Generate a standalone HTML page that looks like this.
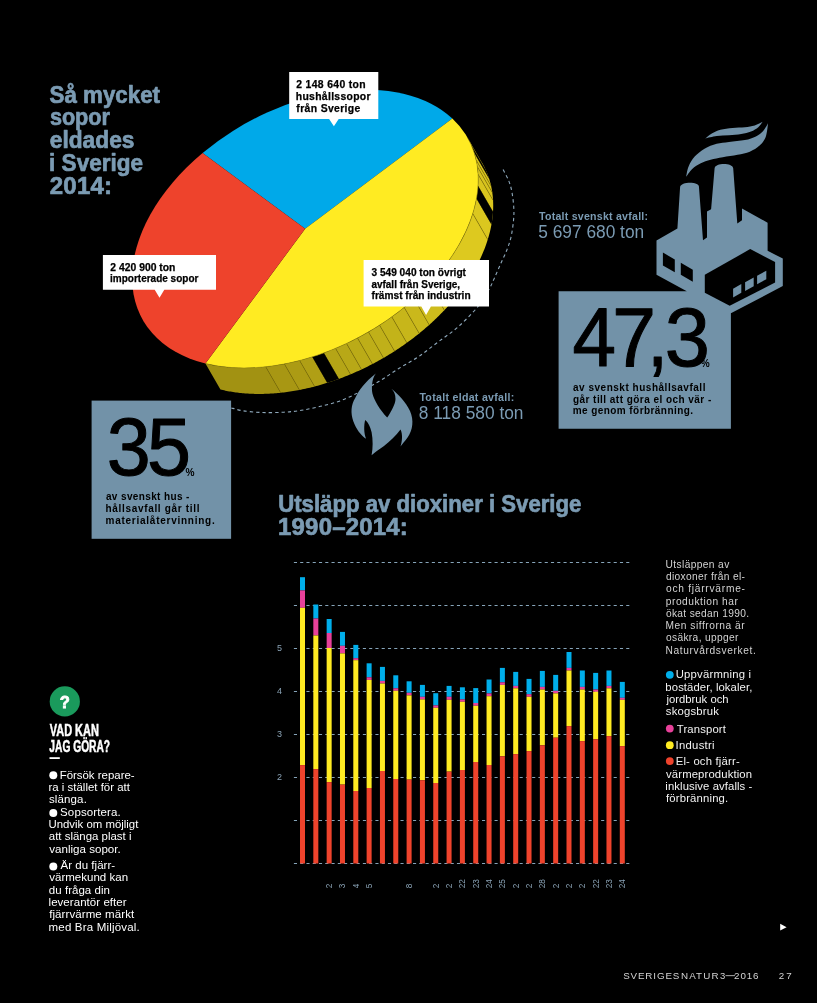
<!DOCTYPE html>
<html><head><meta charset="utf-8"><title>Så mycket sopor eldades i Sverige 2014</title>
<style>
html,body{margin:0;padding:0;background:#000;}
body{width:817px;height:1003px;overflow:hidden;}
svg{display:block;font-family:"Liberation Sans",sans-serif;will-change:transform;}
</style></head>
<body>
<svg width="817" height="1003" viewBox="0 0 817 1003" font-family="Liberation Sans, sans-serif">
<rect width="817" height="1003" fill="#000"/>
<polygon points="466.85,136.43 467.38,137.34 467.90,138.26 468.41,139.19 468.90,140.12 469.38,141.06 469.85,142.01 470.31,142.96 470.76,143.92 485.76,169.92 485.31,168.96 484.85,168.01 484.38,167.06 483.90,166.12 483.41,165.19 482.90,164.26 482.38,163.34 481.85,162.43" fill="#d6c21e"/>
<polygon points="470.76,143.92 471.19,144.89 471.61,145.86 472.01,146.84 472.41,147.82 472.79,148.82 473.16,149.81 473.51,150.82 473.85,151.83 474.18,152.84 489.18,178.84 488.85,177.83 488.51,176.82 488.16,175.81 487.79,174.82 487.41,173.82 487.01,172.84 486.61,171.86 486.19,170.89 485.76,169.92" fill="#d7c31e"/>
<polygon points="474.18,152.84 474.50,153.86 474.81,154.89 475.10,155.92 475.38,156.96 475.64,158.00 475.89,159.05 476.13,160.11 491.13,186.11 490.89,185.05 490.64,184.00 490.38,182.96 490.10,181.92 489.81,180.89 489.50,179.86 489.18,178.84" fill="#d7c31e"/>
<polygon points="476.13,160.11 476.36,161.17 476.57,162.23 476.77,163.30 476.96,164.37 477.13,165.45 477.29,166.54 492.29,192.54 492.13,191.45 491.96,190.37 491.77,189.30 491.57,188.23 491.36,187.17 491.13,186.11" fill="#d8c41e"/>
<polygon points="477.29,166.54 477.44,167.63 477.58,168.72 477.70,169.82 477.81,170.92 477.90,172.03 477.98,173.14 478.05,174.26 493.05,200.26 492.98,199.14 492.90,198.03 492.81,196.92 492.70,195.82 492.58,194.72 492.44,193.63 492.29,192.54" fill="#d8c41e"/>
<polygon points="478.05,174.26 478.11,175.39 478.15,176.53 478.18,177.67 478.20,178.81 478.20,179.96 478.19,181.12 478.16,182.27 478.13,183.43 478.08,184.60 478.01,185.76 493.01,211.76 493.08,210.60 493.13,209.43 493.16,208.27 493.19,207.12 493.20,205.96 493.20,204.81 493.18,203.67 493.15,202.53 493.11,201.39 493.05,200.26" fill="#d9c51e"/>
<polygon points="478.01,185.76 477.93,187.02 477.82,188.29 477.71,189.55 477.58,190.82 477.43,192.10 477.27,193.37 477.09,194.65 476.90,195.93 476.69,197.22 476.46,198.51 491.46,224.51 491.69,223.22 491.90,221.93 492.09,220.65 492.27,219.37 492.43,218.10 492.58,216.82 492.71,215.55 492.82,214.29 492.93,213.02 493.01,211.76" fill="#dac61f"/>
<polygon points="476.46,198.51 476.23,199.76 475.98,201.00 475.72,202.26 475.45,203.51 475.16,204.76 474.86,206.02 474.54,207.28 474.21,208.54 473.86,209.80 473.50,211.07 473.13,212.33 472.74,213.60 487.74,239.60 488.13,238.33 488.50,237.07 488.86,235.80 489.21,234.54 489.54,233.28 489.86,232.02 490.16,230.76 490.45,229.51 490.72,228.26 490.98,227.00 491.23,225.76 491.46,224.51" fill="#dbc71f"/>
<polygon points="472.74,213.60 472.36,214.82 471.96,216.04 471.54,217.26 471.12,218.48 470.68,219.71 470.23,220.93 469.77,222.16 469.29,223.38 468.80,224.61 468.30,225.83 467.78,227.06 467.26,228.28 466.72,229.51 466.17,230.74 465.60,231.96 465.02,233.19 464.43,234.41 463.83,235.64 463.22,236.86 462.59,238.08 461.95,239.31 461.30,240.53 460.64,241.75 459.96,242.97 459.28,244.19 458.58,245.41 457.87,246.62 457.14,247.84 456.41,249.05 455.66,250.26 454.91,251.47 454.14,252.68 453.35,253.89 452.56,255.10 451.76,256.30 450.94,257.50 450.12,258.70 449.28,259.89 448.43,261.09 447.57,262.28 446.70,263.47 445.82,264.65 444.92,265.84 459.92,291.84 460.82,290.65 461.70,289.47 462.57,288.28 463.43,287.09 464.28,285.89 465.12,284.70 465.94,283.50 466.76,282.30 467.56,281.10 468.35,279.89 469.14,278.68 469.91,277.47 470.66,276.26 471.41,275.05 472.14,273.84 472.87,272.62 473.58,271.41 474.28,270.19 474.96,268.97 475.64,267.75 476.30,266.53 476.95,265.31 477.59,264.08 478.22,262.86 478.83,261.64 479.43,260.41 480.02,259.19 480.60,257.96 481.17,256.74 481.72,255.51 482.26,254.28 482.78,253.06 483.30,251.83 483.80,250.61 484.29,249.38 484.77,248.16 485.23,246.93 485.68,245.71 486.12,244.48 486.54,243.26 486.96,242.04 487.36,240.82 487.74,239.60" fill="#ddc91f"/>
<polygon points="444.92,265.84 444.03,267.00 443.12,268.17 442.20,269.33 441.28,270.50 440.34,271.65 439.39,272.81 438.43,273.96 437.46,275.10 436.49,276.25 435.50,277.39 434.50,278.52 433.49,279.66 432.47,280.78 431.45,281.91 430.41,283.03 429.36,284.15 444.36,310.15 445.41,309.03 446.45,307.91 447.47,306.78 448.49,305.66 449.50,304.52 450.50,303.39 451.49,302.25 452.46,301.10 453.43,299.96 454.39,298.81 455.34,297.65 456.28,296.50 457.20,295.33 458.12,294.17 459.03,293.00 459.92,291.84" fill="#d3c01d"/>
<polygon points="429.36,284.15 428.26,285.31 427.14,286.47 426.02,287.62 424.88,288.77 423.74,289.92 422.58,291.05 421.41,292.19 420.24,293.32 419.05,294.44 417.86,295.56 416.66,296.67 415.44,297.78 414.22,298.88 429.22,324.88 430.44,323.78 431.66,322.67 432.86,321.56 434.05,320.44 435.24,319.32 436.41,318.19 437.58,317.05 438.74,315.92 439.88,314.77 441.02,313.62 442.14,312.47 443.26,311.31 444.36,310.15" fill="#cebc1c"/>
<polygon points="414.22,298.88 413.00,299.96 411.77,301.04 410.53,302.12 409.29,303.18 408.03,304.25 406.77,305.30 405.50,306.35 404.21,307.39 419.21,333.39 420.50,332.35 421.77,331.30 423.03,330.25 424.29,329.18 425.53,328.12 426.77,327.04 428.00,325.96 429.22,324.88" fill="#cab81b"/>
<polygon points="404.21,307.39 402.87,308.47 401.52,309.55 400.16,310.62 398.79,311.67 397.41,312.73 396.02,313.77 394.63,314.81 393.22,315.84 391.81,316.86 406.81,342.86 408.22,341.84 409.63,340.81 411.02,339.77 412.41,338.73 413.79,337.67 415.16,336.62 416.52,335.55 417.87,334.47 419.21,333.39" fill="#c7b61a"/>
<polygon points="391.81,316.86 390.48,317.81 389.14,318.76 387.80,319.69 386.45,320.62 385.09,321.55 383.73,322.46 382.36,323.37 380.98,324.27 379.60,325.16 394.60,351.16 395.98,350.27 397.36,349.37 398.73,348.46 400.09,347.55 401.45,346.62 402.80,345.69 404.14,344.76 405.48,343.81 406.81,342.86" fill="#c3b319"/>
<polygon points="379.60,325.16 378.23,326.04 376.86,326.91 375.48,327.77 374.09,328.62 372.70,329.46 371.30,330.30 369.90,331.13 368.50,331.95 383.50,357.95 384.90,357.13 386.30,356.30 387.70,355.46 389.09,354.62 390.48,353.77 391.86,352.91 393.23,352.04 394.60,351.16" fill="#c0b019"/>
<polygon points="368.50,331.95 366.94,332.84 365.39,333.73 363.82,334.60 362.25,335.47 360.68,336.32 359.10,337.17 357.51,338.00 372.51,364.00 374.10,363.17 375.68,362.32 377.25,361.47 378.82,360.60 380.39,359.73 381.94,358.84 383.50,357.95" fill="#beae18"/>
<polygon points="357.51,338.00 355.95,338.81 354.39,339.61 352.82,340.40 351.24,341.18 349.66,341.95 348.08,342.71 346.50,343.46 361.50,369.46 363.08,368.71 364.66,367.95 366.24,367.18 367.82,366.40 369.39,365.61 370.95,364.81 372.51,364.00" fill="#bbab17"/>
<polygon points="346.50,343.46 344.94,344.19 343.37,344.91 341.81,345.61 340.24,346.31 338.66,347.00 337.09,347.67 335.51,348.34 350.51,374.34 352.09,373.67 353.66,373.00 355.24,372.31 356.81,371.61 358.37,370.91 359.94,370.19 361.50,369.46" fill="#b8a817"/>
<polygon points="335.51,348.34 333.86,349.02 332.21,349.69 330.55,350.35 328.89,351.00 327.24,351.64 325.57,352.27 323.91,352.88 338.91,378.88 340.57,378.27 342.24,377.64 343.89,377.00 345.55,376.35 347.21,375.69 348.86,375.02 350.51,374.34" fill="#b5a516"/>
<polygon points="323.91,352.88 322.24,353.49 320.57,354.08 318.90,354.66 317.22,355.23 315.55,355.79 313.87,356.34 312.20,356.87 327.20,382.87 328.87,382.34 330.55,381.79 332.22,381.23 333.90,380.66 335.57,380.08 337.24,379.49 338.91,378.88" fill="#b3a215"/>
<polygon points="312.20,356.87 310.62,357.36 309.05,357.84 307.48,358.31 305.90,358.76 304.33,359.21 302.75,359.65 301.18,360.07 299.61,360.49 314.61,386.49 316.18,386.07 317.75,385.65 319.33,385.21 320.90,384.76 322.48,384.31 324.05,383.84 325.62,383.36 327.20,382.87" fill="#b09f15"/>
<polygon points="299.61,360.49 298.08,360.88 296.56,361.26 295.04,361.63 293.51,361.99 291.99,362.34 290.47,362.68 288.95,363.01 287.44,363.33 285.92,363.63 284.41,363.93 299.41,389.93 300.92,389.63 302.44,389.33 303.95,389.01 305.47,388.68 306.99,388.34 308.51,387.99 310.04,387.63 311.56,387.26 313.08,386.88 314.61,386.49" fill="#ac9b14"/>
<polygon points="284.41,363.93 282.83,364.23 281.27,364.52 279.70,364.79 278.13,365.05 276.57,365.31 275.01,365.55 273.45,365.78 271.90,365.99 270.35,366.20 268.80,366.40 267.25,366.58 265.71,366.75 280.71,392.75 282.25,392.58 283.80,392.40 285.35,392.20 286.90,391.99 288.45,391.78 290.01,391.55 291.57,391.31 293.13,391.05 294.70,390.79 296.27,390.52 297.83,390.23 299.41,389.93" fill="#a89713"/>
<polygon points="265.71,366.75 264.24,366.90 262.77,367.05 261.31,367.18 259.85,367.30 258.39,367.41 256.94,367.51 255.49,367.60 254.05,367.68 252.60,367.75 251.17,367.81 249.73,367.86 248.30,367.89 246.88,367.92 245.46,367.94 244.04,367.94 242.63,367.94 241.23,367.92 239.82,367.89 238.43,367.86 237.04,367.81 235.65,367.75 234.27,367.68 232.89,367.60 231.52,367.51 230.16,367.41 228.80,367.30 227.45,367.18 226.10,367.04 224.76,366.90 223.42,366.75 222.09,366.58 220.77,366.41 219.46,366.22 218.15,366.03 216.84,365.82 215.55,365.60 214.26,365.38 212.98,365.14 211.70,364.89 210.43,364.63 209.17,364.37 207.92,364.09 206.67,363.80 205.44,363.50 220.44,389.50 221.67,389.80 222.92,390.09 224.17,390.37 225.43,390.63 226.70,390.89 227.98,391.14 229.26,391.38 230.55,391.60 231.84,391.82 233.15,392.03 234.46,392.22 235.77,392.41 237.09,392.58 238.42,392.75 239.76,392.90 241.10,393.04 242.45,393.18 243.80,393.30 245.16,393.41 246.52,393.51 247.89,393.60 249.27,393.68 250.65,393.75 252.04,393.81 253.43,393.86 254.82,393.89 256.23,393.92 257.63,393.94 259.04,393.94 260.46,393.94 261.88,393.92 263.30,393.89 264.73,393.86 266.17,393.81 267.60,393.75 269.05,393.68 270.49,393.60 271.94,393.51 273.39,393.41 274.85,393.30 276.31,393.18 277.77,393.05 279.24,392.90 280.71,392.75" fill="#a29212"/>
<polygon points="470.76,143.92 471.19,144.89 471.61,145.86 472.01,146.84 472.41,147.82 472.79,148.82 473.16,149.81 473.51,150.82 473.85,151.83 474.18,152.84 489.18,178.84 488.85,177.83 488.51,176.82 488.16,175.81 487.79,174.82 487.41,173.82 487.01,172.84 486.61,171.86 486.19,170.89 485.76,169.92" fill="#000"/>
<polygon points="478.01,185.76 477.93,187.02 477.82,188.29 477.71,189.55 477.58,190.82 477.43,192.10 477.27,193.37 477.09,194.65 476.90,195.93 476.69,197.22 476.46,198.51 491.46,224.51 491.69,223.22 491.90,221.93 492.09,220.65 492.27,219.37 492.43,218.10 492.58,216.82 492.71,215.55 492.82,214.29 492.93,213.02 493.01,211.76" fill="#000"/>
<polygon points="323.91,352.88 322.24,353.49 320.57,354.08 318.90,354.66 317.22,355.23 315.55,355.79 313.87,356.34 312.20,356.87 327.20,382.87 328.87,382.34 330.55,381.79 332.22,381.23 333.90,380.66 335.57,380.08 337.24,379.49 338.91,378.88" fill="#000"/>
<line x1="476.13" y1="160.11" x2="491.13" y2="186.11" stroke="#7d6f0c" stroke-width="0.6"/>
<line x1="477.29" y1="166.54" x2="492.29" y2="192.54" stroke="#7d6f0c" stroke-width="0.6"/>
<line x1="478.05" y1="174.26" x2="493.05" y2="200.26" stroke="#7d6f0c" stroke-width="0.6"/>
<line x1="472.74" y1="213.60" x2="487.74" y2="239.60" stroke="#7d6f0c" stroke-width="0.6"/>
<line x1="444.92" y1="265.84" x2="459.92" y2="291.84" stroke="#7d6f0c" stroke-width="0.6"/>
<line x1="429.36" y1="284.15" x2="444.36" y2="310.15" stroke="#7d6f0c" stroke-width="0.6"/>
<line x1="414.22" y1="298.88" x2="429.22" y2="324.88" stroke="#7d6f0c" stroke-width="0.6"/>
<line x1="404.21" y1="307.39" x2="419.21" y2="333.39" stroke="#7d6f0c" stroke-width="0.6"/>
<line x1="391.81" y1="316.86" x2="406.81" y2="342.86" stroke="#7d6f0c" stroke-width="0.6"/>
<line x1="379.60" y1="325.16" x2="394.60" y2="351.16" stroke="#7d6f0c" stroke-width="0.6"/>
<line x1="368.50" y1="331.95" x2="383.50" y2="357.95" stroke="#7d6f0c" stroke-width="0.6"/>
<line x1="357.51" y1="338.00" x2="372.51" y2="364.00" stroke="#7d6f0c" stroke-width="0.6"/>
<line x1="346.50" y1="343.46" x2="361.50" y2="369.46" stroke="#7d6f0c" stroke-width="0.6"/>
<line x1="335.51" y1="348.34" x2="350.51" y2="374.34" stroke="#7d6f0c" stroke-width="0.6"/>
<line x1="299.61" y1="360.49" x2="314.61" y2="386.49" stroke="#7d6f0c" stroke-width="0.6"/>
<line x1="284.41" y1="363.93" x2="299.41" y2="389.93" stroke="#7d6f0c" stroke-width="0.6"/>
<line x1="265.71" y1="366.75" x2="280.71" y2="392.75" stroke="#7d6f0c" stroke-width="0.6"/>
<path d="M305.17,228.75 L202.57,153.03 A186.2,121.02 -29.0754 0 1 452.35,118.46 Z" fill="#00a9e9"/>
<path d="M305.17,228.75 L452.35,118.46 A186.2,121.02 -29.0754 0 1 205.44,363.50 Z" fill="#ffeb22"/>
<path d="M305.17,228.75 L205.44,363.50 A186.2,121.02 -29.0754 0 1 202.57,153.03 Z" fill="#ee432c"/>
<polyline points="467.90,138.26 468.41,139.19 468.90,140.12 469.38,141.06 469.85,142.01 470.31,142.96 470.76,143.92 471.19,144.89 471.61,145.86 472.01,146.84 472.41,147.83 472.79,148.82 473.16,149.82 473.51,150.82 473.86,151.83 474.19,152.85 474.50,153.87 474.81,154.90 475.10,155.93 475.38,156.97 475.64,158.01 475.89,159.06 476.13,160.12 476.36,161.18 476.57,162.24 476.77,163.31 476.96,164.39 477.13,165.47 477.30,166.55 477.44,167.64 477.58,168.73 477.70,169.83 477.81,170.94 477.90,172.04 477.99,173.16 478.05,174.27 478.11,175.39 478.15,176.52 478.18,177.64 478.20,178.78 478.20,179.91 478.19,181.05 478.17,182.20 478.13,183.34 478.08,184.49 478.02,185.65 477.94,186.80 477.85,187.97 477.75,189.13 477.63,190.29 477.50,191.46 477.36,192.64 477.21,193.81 477.04,194.99 476.86,196.17 476.66,197.35 476.46,198.54 476.24,199.72 476.00,200.91 475.76,202.11 475.50,203.30 475.22,204.49 474.94,205.69 474.64,206.89 474.33,208.09 474.00,209.30 473.67,210.50 473.32,211.70 472.95,212.91 472.58,214.12 472.19,215.33 471.79,216.54 471.38,217.75 470.95,218.96 470.51,220.17 470.06,221.39 469.59,222.60 469.12,223.81 468.63,225.03 468.13,226.24 467.61,227.46 467.09,228.67 466.55,229.89 466.00,231.10 465.43,232.32 464.86,233.53 464.27,234.75 463.67,235.96 463.06,237.18 462.43,238.39 461.80,239.60 461.15,240.81 460.49,242.02 459.82,243.23 459.13,244.44 458.44,245.65 457.73,246.85 457.01,248.06 456.28,249.26 455.54,250.46 454.79,251.66 454.03,252.86 453.25,254.05 452.46,255.25 451.66,256.44 450.85,257.63 450.03,258.82 449.20,260.00 448.36,261.18 447.51,262.36 446.64,263.54 445.77,264.72 444.88,265.89 443.98,267.06 443.08,268.23 442.16,269.39 441.23,270.55 440.29,271.71 439.34,272.86 438.39,274.01 437.42,275.16 436.44,276.30 435.45,277.44 434.45,278.58 433.44,279.71 432.42,280.84 431.39,281.97 430.35,283.09 429.31,284.21 428.25,285.32 427.18,286.43 426.11,287.53 425.02,288.63 423.93,289.72 422.83,290.81 421.71,291.90 420.59,292.98 419.46,294.06 418.32,295.13 417.18,296.19 416.02,297.25 414.86,298.31 413.68,299.36 412.50,300.40 411.31,301.44 410.12,302.47 408.91,303.50 407.70,304.52 406.48,305.54 405.25,306.55 404.01,307.56 402.77,308.55 401.52,309.55 400.26,310.53 399.00,311.51 397.72,312.49 396.44,313.46 395.16,314.42 393.86,315.37 392.56,316.32 391.25,317.26 389.94,318.19 388.62,319.12 387.29,320.04 385.96,320.96 384.62,321.86 383.28,322.76 381.93,323.66 380.57,324.54 379.21,325.42 377.84,326.29 376.47,327.15 375.09,328.01 373.70,328.86 372.31,329.70 370.92,330.53 369.52,331.35 368.11,332.17 366.70,332.98 365.29,333.78 363.87,334.58 362.45,335.36 361.02,336.14 359.59,336.91 358.15,337.67 356.71,338.42 355.27,339.16 353.82,339.90 352.37,340.63 350.91,341.35 349.45,342.06 347.99,342.76 346.53,343.45 345.06,344.13 343.59,344.81 342.11,345.48 340.64,346.13 339.16,346.78 337.67,347.42 336.19,348.05 334.70,348.67 333.21,349.29 331.72,349.89 330.23,350.48 328.73,351.07 327.23,351.64 325.73,352.21 324.23,352.77 322.73,353.31 321.23,353.85 319.72,354.38 318.22,354.90 316.71,355.41 315.20,355.90 313.69,356.39 312.18,356.87 310.67,357.34 309.16,357.80 307.65,358.25 306.14,358.69 304.63,359.13 303.12,359.55 301.61,359.96 300.10,360.36 298.59,360.75 297.08,361.13 295.57,361.50 294.07,361.86 292.56,362.21 291.05,362.55 289.55,362.88 288.04,363.20 286.54,363.51 285.04,363.81 283.54,364.10 282.04,364.37 280.55,364.64 279.05,364.90 277.56,365.15 276.07,365.39 274.58,365.61 273.10,365.83 271.61,366.03 270.13,366.23 268.65,366.41 267.18,366.59 265.71,366.75 264.24,366.91 262.77,367.05 261.31,367.18 259.85,367.30 258.39,367.41 256.94,367.51 255.49,367.60 254.05,367.68 252.60,367.75 251.17,367.81 249.73,367.86 248.30,367.89 246.88,367.92 245.46,367.94 244.04,367.94 242.63,367.94 241.23,367.92 239.83,367.89 238.43,367.86 237.04,367.81 235.65,367.75 234.27,367.68 232.90,367.60 231.53,367.51 230.16,367.41 228.80,367.30 227.45,367.18 226.10,367.04 224.76,366.90 223.43,366.75 222.10,366.58 220.78,366.41 219.46,366.22 218.15,366.03 216.85,365.82 215.56,365.61 214.27,365.38 212.99,365.14 211.71,364.89 210.44,364.64 209.18,364.37 207.93,364.09 206.68,363.80 205.44,363.50" fill="none" stroke="#8a7c10" stroke-width="0.5"/>
<path d="M503.10,169.60 C504.03,171.45 507.23,176.98 508.70,180.70 C510.17,184.42 511.05,187.37 511.90,191.90 C512.75,196.43 513.53,203.12 513.80,207.90 C514.07,212.68 513.95,215.82 513.50,220.60 C513.05,225.38 512.17,231.80 511.10,236.60 C510.03,241.40 508.83,244.88 507.10,249.40 C505.37,253.92 502.82,258.92 500.70,263.70 C498.58,268.48 496.25,273.98 494.40,278.10 C492.55,282.22 491.50,285.00 489.60,288.40 C487.70,291.80 485.25,295.10 483.00,298.50 C480.75,301.90 480.35,303.98 476.10,308.80 C471.85,313.62 463.87,321.85 457.50,327.40 C451.13,332.95 444.43,337.20 437.90,342.10 C431.37,347.00 424.82,352.40 418.30,356.80 C411.78,361.20 405.32,364.42 398.80,368.50 C392.28,372.58 385.73,377.38 379.20,381.30 C372.67,385.22 366.13,388.73 359.60,392.00 C353.07,395.27 346.52,398.52 340.00,400.90 C333.48,403.28 326.93,404.73 320.50,406.30 C314.07,407.87 307.52,409.32 301.40,410.30 C295.28,411.28 290.42,411.83 283.80,412.20 C277.18,412.57 268.57,412.75 261.70,412.50 C254.83,412.25 247.73,411.48 242.60,410.70 C237.47,409.92 232.85,408.28 230.90,407.80" fill="none" stroke="#8fa9bc" stroke-width="1.1" stroke-dasharray="3.3 3"/>
<text x="49.51" y="102.6" font-size="24" font-weight="bold" fill="#7b9bb3" textLength="110.52" lengthAdjust="spacingAndGlyphs" stroke="#7b9bb3" stroke-width="0.7" stroke-linejoin="round">Så mycket</text>
<text x="49.89" y="125.4" font-size="24" font-weight="bold" fill="#7b9bb3" textLength="60.09" lengthAdjust="spacingAndGlyphs" stroke="#7b9bb3" stroke-width="0.7" stroke-linejoin="round">sopor</text>
<text x="49.76" y="148.2" font-size="24" font-weight="bold" fill="#7b9bb3" textLength="84.72" lengthAdjust="spacingAndGlyphs" stroke="#7b9bb3" stroke-width="0.7" stroke-linejoin="round">eldades</text>
<text x="49.08" y="171" font-size="24" font-weight="bold" fill="#7b9bb3" textLength="93.94" lengthAdjust="spacingAndGlyphs" stroke="#7b9bb3" stroke-width="0.7" stroke-linejoin="round">i Sverige</text>
<text x="49.82" y="193.8" font-size="24" font-weight="bold" fill="#7b9bb3" textLength="62.14" lengthAdjust="spacing" stroke="#7b9bb3" stroke-width="0.7" stroke-linejoin="round">2014:</text>
<path d="M289.2,72 H378.3 V118.9 H338.7 L333.9,126.3 L329.09999999999997,118.9 H289.2 Z" fill="#fff"/>
<text x="296.16" y="87.6" font-size="10.4" font-weight="bold" fill="#000" textLength="69.46" lengthAdjust="spacing" stroke="#000" stroke-width="0.25" stroke-linejoin="round">2 148 640 ton</text>
<text x="295.80" y="99.5" font-size="10.4" font-weight="bold" fill="#000" textLength="74.73" lengthAdjust="spacing" stroke="#000" stroke-width="0.25" stroke-linejoin="round">hushållssopor</text>
<text x="296.35" y="111.5" font-size="10.4" font-weight="bold" fill="#000" textLength="63.98" lengthAdjust="spacing" stroke="#000" stroke-width="0.25" stroke-linejoin="round">från Sverige</text>
<path d="M102.9,255.1 H216 V289.7 H164.3 L159.5,297.7 L154.7,289.7 H102.9 Z" fill="#fff"/>
<text x="110.37" y="270.6" font-size="10.4" font-weight="bold" fill="#000" textLength="65.05" lengthAdjust="spacingAndGlyphs" stroke="#000" stroke-width="0.25" stroke-linejoin="round">2 420 900 ton</text>
<text x="110.03" y="282.3" font-size="10.4" font-weight="bold" fill="#000" textLength="88.40" lengthAdjust="spacingAndGlyphs" stroke="#000" stroke-width="0.25" stroke-linejoin="round">importerade sopor</text>
<path d="M363.6,260.1 H489 V306.4 H430.90000000000003 L426.1,315 L421.3,306.4 H363.6 Z" fill="#fff"/>
<text x="371.49" y="275.6" font-size="10.4" font-weight="bold" fill="#000" textLength="94.51" lengthAdjust="spacingAndGlyphs" stroke="#000" stroke-width="0.25" stroke-linejoin="round">3 549 040 ton övrigt</text>
<text x="371.43" y="287.6" font-size="10.4" font-weight="bold" fill="#000" textLength="88.61" lengthAdjust="spacingAndGlyphs" stroke="#000" stroke-width="0.25" stroke-linejoin="round">avfall från Sverige,</text>
<text x="371.55" y="299.2" font-size="10.4" font-weight="bold" fill="#000" textLength="99.05" lengthAdjust="spacingAndGlyphs" stroke="#000" stroke-width="0.25" stroke-linejoin="round">främst från industrin</text>
<text x="539.08" y="219.7" font-size="10.6" font-weight="bold" fill="#7b9bb3" textLength="108.94" lengthAdjust="spacing">Totalt svenskt avfall:</text>
<text x="538.21" y="238.3" font-size="17.5" font-weight="normal" fill="#7b9bb3" textLength="106.02" lengthAdjust="spacingAndGlyphs">5 697 680 ton</text>
<text x="419.38" y="400.6" font-size="10.6" font-weight="bold" fill="#7b9bb3" textLength="94.94" lengthAdjust="spacing">Totalt eldat avfall:</text>
<text x="418.76" y="419.0" font-size="17.5" font-weight="normal" fill="#7b9bb3" textLength="104.76" lengthAdjust="spacingAndGlyphs">8 118 580 ton</text>
<rect x="91.6" y="400.6" width="139.5" height="138.2" fill="#7292a8"/>
<text transform="translate(106.69,475.4) scale(0.9705,1)" font-size="81.5" font-weight="normal" fill="#000" stroke="#000" stroke-width="1.03" stroke-linejoin="round">3</text>
<text transform="translate(146.93,475.4) scale(0.9705,1)" font-size="81.5" font-weight="normal" fill="#000" stroke="#000" stroke-width="1.03" stroke-linejoin="round">5</text>
<text transform="translate(185.45,476.1) scale(0.8899,1)" font-size="11.4" font-weight="bold" fill="#000">%</text>
<text x="105.91" y="499.9" font-size="10" font-weight="bold" fill="#000" textLength="83.49" lengthAdjust="spacing">av svenskt hus -</text>
<text x="105.50" y="511.7" font-size="10" font-weight="bold" fill="#000" textLength="94.01" lengthAdjust="spacing">hållsavfall går till</text>
<text x="105.54" y="523.6" font-size="10" font-weight="bold" fill="#000" textLength="109.15" lengthAdjust="spacing">materialåtervinning.</text>
<path d="M656.5,240.6 L677.4,228.6 L680.1,187 C680.6,181.5 698.4,181.3 698.9,186.2 L703,240.2 L707,237.6 L707,211.4 L711.1,209.3 L714.6,168.2 C715.4,162.6 732.4,162.6 733.2,168.2 L737.3,223.4 L742,220.2 L742,208.6 L767.6,222.7 L767.6,250.8 L782.8,258.6 L782.8,286 L730.9,313.3 L730.9,428.8 L558.6,428.8 L558.6,291.2 L686.8,291.2 L656.5,274.8 Z" fill="#7292a8"/>
<path d="M704.8,274.8 L750.2,249.1 L775.1,262 L775.1,282.5 L729.7,305.7 L704.8,292.8 Z" fill="#000"/>
<path d="M733.1,288.7 L741.3,284 L741.3,292.8 L733.1,297.6 Z" fill="#7292a8"/>
<path d="M745.1,282.2 L753.7,277.6 L753.7,286.3 L745.1,290.9 Z" fill="#7292a8"/>
<path d="M757.1,275.7 L766.3,270.7 L766.3,279.2 L757.1,284.2 Z" fill="#7292a8"/>
<path d="M662.9,252.6 L674.8,259.4 L674.8,272.3 L662.9,265.4 Z M680.8,262.8 L692.8,269.7 L692.8,281.7 L680.8,274.8 Z" fill="#000"/>
<path d="M705.10,138.50 C706.22,137.65 709.25,134.87 711.80,133.40 C714.35,131.93 716.93,130.62 720.40,129.70 C723.87,128.78 728.52,128.32 732.60,127.90 C736.68,127.48 741.22,127.62 744.90,127.20 C748.58,126.78 751.75,126.32 754.70,125.40 C757.65,124.48 761.28,122.32 762.60,121.70 C761.88,122.62 760.23,125.57 758.30,127.20 C756.37,128.83 753.85,130.37 751.00,131.50 C748.15,132.63 744.87,133.38 741.20,134.00 C737.53,134.62 733.08,134.85 729.00,135.20 C724.92,135.55 720.68,135.55 716.70,136.10 C712.72,136.65 707.03,138.10 705.10,138.50 Z" fill="#7292a8"/>
<path d="M768.10,123.30 C767.28,124.57 765.23,128.72 763.20,130.90 C761.17,133.08 758.95,134.87 755.90,136.40 C752.85,137.93 749.38,139.18 744.90,140.10 C740.42,141.02 733.70,141.28 729.00,141.90 C724.30,142.52 720.78,142.67 716.70,143.80 C712.62,144.93 708.17,146.57 704.50,148.70 C700.83,150.83 697.35,153.65 694.70,156.60 C692.05,159.55 690.03,163.03 688.60,166.40 C687.17,169.77 686.52,175.07 686.10,176.80 C687.12,175.48 689.75,171.15 692.20,168.90 C694.65,166.65 697.73,164.83 700.80,163.30 C703.87,161.77 706.93,160.72 710.60,159.70 C714.27,158.68 718.32,158.02 722.80,157.20 C727.28,156.38 733.00,155.72 737.50,154.80 C742.00,153.88 746.12,153.23 749.80,151.70 C753.48,150.17 756.95,148.05 759.60,145.60 C762.25,143.15 764.28,140.72 765.70,137.00 C767.12,133.28 767.70,125.58 768.10,123.30 Z" fill="#7292a8"/>
<path d="M375.8,373.5 C371.5,379 371.5,389 372.5,393.7 C374,400 380,410 387.2,417.6 C391,412 395.5,404 395.5,399 C395.5,394 394,391 391.4,388.7 C398,394 406,402 410,411 C414,420 413,430 407.4,437.8 C405,441 402,444.5 400.5,446.5 C402.3,441 402.8,434 400.5,429.5 C396,436 390,441 384,446 C379,449.5 375,452 371.6,455.2 C373,448 373,440 371.6,432.3 C370.5,427 368,422 365.2,419.9 C363.8,425 363.8,433 366.1,438.7 C361,435.5 356,429 353.3,421.2 C350.5,413 351,405 355.1,398.3 C359,390 365,382 375.8,373.5 Z" fill="#7292a8"/>
<text transform="translate(572.41,365.6) scale(0.9308,1)" font-size="84" font-weight="normal" fill="#000" stroke="#000" stroke-width="1.07" stroke-linejoin="round">4</text>
<text transform="translate(612.37,365.6) scale(0.9349,1)" font-size="84" font-weight="normal" fill="#000" stroke="#000" stroke-width="1.07" stroke-linejoin="round">7</text>
<text transform="translate(647.32,365.6) scale(0.8855,1)" font-size="84" font-weight="normal" fill="#000" stroke="#000" stroke-width="1.13" stroke-linejoin="round">,</text>
<text transform="translate(664.71,365.6) scale(0.9667,1)" font-size="84" font-weight="normal" fill="#000" stroke="#000" stroke-width="1.03" stroke-linejoin="round">3</text>
<text transform="translate(701.06,367.2) scale(0.8365,1)" font-size="11.7" font-weight="bold" fill="#000">%</text>
<text x="573.01" y="390.5" font-size="10" font-weight="bold" fill="#000" textLength="132.40" lengthAdjust="spacing">av svenskt hushållsavfall</text>
<text x="572.89" y="402.8" font-size="10" font-weight="bold" fill="#000" textLength="138.41" lengthAdjust="spacing">går till att göra el och vär -</text>
<text x="572.64" y="414.4" font-size="10" font-weight="bold" fill="#000" textLength="120.35" lengthAdjust="spacing">me genom förbränning.</text>
<text x="278.22" y="512.4" font-size="24" font-weight="bold" fill="#7b9bb3" textLength="303.19" lengthAdjust="spacingAndGlyphs" stroke="#7b9bb3" stroke-width="0.7" stroke-linejoin="round">Utsläpp av dioxiner i Sverige</text>
<text x="278.04" y="535" font-size="24" font-weight="bold" fill="#7b9bb3" textLength="129.82" lengthAdjust="spacing" stroke="#7b9bb3" stroke-width="0.7" stroke-linejoin="round">1990–2014:</text>
<line x1="293.9" y1="562.5" x2="630" y2="562.5" stroke="#86a4b9" stroke-width="1.1" stroke-dasharray="3.1 3.17"/>
<line x1="293.9" y1="605.5" x2="630" y2="605.5" stroke="#86a4b9" stroke-width="1.1" stroke-dasharray="3.1 3.17"/>
<line x1="293.9" y1="648.5" x2="630" y2="648.5" stroke="#86a4b9" stroke-width="1.1" stroke-dasharray="3.1 3.17"/>
<line x1="293.9" y1="691.5" x2="630" y2="691.5" stroke="#86a4b9" stroke-width="1.1" stroke-dasharray="3.1 3.17"/>
<line x1="293.9" y1="734.5" x2="630" y2="734.5" stroke="#86a4b9" stroke-width="1.1" stroke-dasharray="3.1 3.17"/>
<line x1="293.9" y1="777.5" x2="630" y2="777.5" stroke="#86a4b9" stroke-width="1.1" stroke-dasharray="3.1 3.17"/>
<line x1="293.9" y1="820.5" x2="630" y2="820.5" stroke="#86a4b9" stroke-width="1.1" stroke-dasharray="3.1 3.17"/>
<line x1="293.9" y1="863.5" x2="630" y2="863.5" stroke="#86a4b9" stroke-width="1.1" stroke-dasharray="3.1 3.17"/>
<rect x="300.00" y="577.2" width="5.0" height="13.20" fill="#00aeea"/>
<rect x="300.00" y="590.4" width="5.0" height="17.40" fill="#e8419a"/>
<rect x="300.00" y="607.8" width="5.0" height="157.30" fill="#ffeb22"/>
<rect x="300.00" y="765.1" width="5.0" height="98.40" fill="#ee432c"/>
<rect x="313.32" y="604.5" width="5.0" height="14.00" fill="#00aeea"/>
<rect x="313.32" y="618.5" width="5.0" height="17.00" fill="#e8419a"/>
<rect x="313.32" y="635.5" width="5.0" height="133.60" fill="#ffeb22"/>
<rect x="313.32" y="769.1" width="5.0" height="94.40" fill="#ee432c"/>
<rect x="326.65" y="619" width="5.0" height="14.00" fill="#00aeea"/>
<rect x="326.65" y="633" width="5.0" height="15.00" fill="#e8419a"/>
<rect x="326.65" y="648" width="5.0" height="134.10" fill="#ffeb22"/>
<rect x="326.65" y="782.1" width="5.0" height="81.40" fill="#ee432c"/>
<rect x="339.98" y="631.9" width="5.0" height="13.90" fill="#00aeea"/>
<rect x="339.98" y="645.8" width="5.0" height="7.60" fill="#e8419a"/>
<rect x="339.98" y="653.4" width="5.0" height="131.20" fill="#ffeb22"/>
<rect x="339.98" y="784.6" width="5.0" height="78.90" fill="#ee432c"/>
<rect x="353.30" y="644.9" width="5.0" height="13.30" fill="#00aeea"/>
<rect x="353.30" y="658.2" width="5.0" height="2.00" fill="#e8419a"/>
<rect x="353.30" y="660.2" width="5.0" height="130.80" fill="#ffeb22"/>
<rect x="353.30" y="791" width="5.0" height="72.50" fill="#ee432c"/>
<rect x="366.62" y="663.3" width="5.0" height="14.00" fill="#00aeea"/>
<rect x="366.62" y="677.3" width="5.0" height="2.60" fill="#e8419a"/>
<rect x="366.62" y="679.9" width="5.0" height="108.10" fill="#ffeb22"/>
<rect x="366.62" y="788" width="5.0" height="75.50" fill="#ee432c"/>
<rect x="379.95" y="666.9" width="5.0" height="14.00" fill="#00aeea"/>
<rect x="379.95" y="680.9" width="5.0" height="2.60" fill="#e8419a"/>
<rect x="379.95" y="683.5" width="5.0" height="87.50" fill="#ffeb22"/>
<rect x="379.95" y="771" width="5.0" height="92.50" fill="#ee432c"/>
<rect x="393.27" y="675.3" width="5.0" height="13.00" fill="#00aeea"/>
<rect x="393.27" y="688.3" width="5.0" height="2.50" fill="#e8419a"/>
<rect x="393.27" y="690.8" width="5.0" height="88.20" fill="#ffeb22"/>
<rect x="393.27" y="779" width="5.0" height="84.50" fill="#ee432c"/>
<rect x="406.60" y="681.3" width="5.0" height="11.50" fill="#00aeea"/>
<rect x="406.60" y="692.8" width="5.0" height="2.60" fill="#e8419a"/>
<rect x="406.60" y="695.4" width="5.0" height="84.20" fill="#ffeb22"/>
<rect x="406.60" y="779.6" width="5.0" height="83.90" fill="#ee432c"/>
<rect x="419.93" y="684.9" width="5.0" height="11.90" fill="#00aeea"/>
<rect x="419.93" y="696.8" width="5.0" height="2.60" fill="#e8419a"/>
<rect x="419.93" y="699.4" width="5.0" height="80.80" fill="#ffeb22"/>
<rect x="419.93" y="780.2" width="5.0" height="83.30" fill="#ee432c"/>
<rect x="433.25" y="693.2" width="5.0" height="12.20" fill="#00aeea"/>
<rect x="433.25" y="705.4" width="5.0" height="2.40" fill="#e8419a"/>
<rect x="433.25" y="707.8" width="5.0" height="75.20" fill="#ffeb22"/>
<rect x="433.25" y="783" width="5.0" height="80.50" fill="#ee432c"/>
<rect x="446.57" y="685.9" width="5.0" height="10.90" fill="#00aeea"/>
<rect x="446.57" y="696.8" width="5.0" height="3.00" fill="#e8419a"/>
<rect x="446.57" y="699.8" width="5.0" height="71.80" fill="#ffeb22"/>
<rect x="446.57" y="771.6" width="5.0" height="91.90" fill="#ee432c"/>
<rect x="459.90" y="687.3" width="5.0" height="12.10" fill="#00aeea"/>
<rect x="459.90" y="699.4" width="5.0" height="2.40" fill="#e8419a"/>
<rect x="459.90" y="701.8" width="5.0" height="68.20" fill="#ffeb22"/>
<rect x="459.90" y="770" width="5.0" height="93.50" fill="#ee432c"/>
<rect x="473.23" y="688.1" width="5.0" height="14.90" fill="#00aeea"/>
<rect x="473.23" y="703" width="5.0" height="2.80" fill="#e8419a"/>
<rect x="473.23" y="705.8" width="5.0" height="56.20" fill="#ffeb22"/>
<rect x="473.23" y="762" width="5.0" height="101.50" fill="#ee432c"/>
<rect x="486.55" y="679.5" width="5.0" height="13.90" fill="#00aeea"/>
<rect x="486.55" y="693.4" width="5.0" height="2.80" fill="#e8419a"/>
<rect x="486.55" y="696.2" width="5.0" height="68.80" fill="#ffeb22"/>
<rect x="486.55" y="765" width="5.0" height="98.50" fill="#ee432c"/>
<rect x="499.88" y="667.9" width="5.0" height="14.40" fill="#00aeea"/>
<rect x="499.88" y="682.3" width="5.0" height="2.60" fill="#e8419a"/>
<rect x="499.88" y="684.9" width="5.0" height="71.40" fill="#ffeb22"/>
<rect x="499.88" y="756.3" width="5.0" height="107.20" fill="#ee432c"/>
<rect x="513.20" y="671.9" width="5.0" height="14.00" fill="#00aeea"/>
<rect x="513.20" y="685.9" width="5.0" height="2.40" fill="#e8419a"/>
<rect x="513.20" y="688.3" width="5.0" height="65.80" fill="#ffeb22"/>
<rect x="513.20" y="754.1" width="5.0" height="109.40" fill="#ee432c"/>
<rect x="526.52" y="678.9" width="5.0" height="15.30" fill="#00aeea"/>
<rect x="526.52" y="694.2" width="5.0" height="2.60" fill="#e8419a"/>
<rect x="526.52" y="696.8" width="5.0" height="54.30" fill="#ffeb22"/>
<rect x="526.52" y="751.1" width="5.0" height="112.40" fill="#ee432c"/>
<rect x="539.85" y="670.9" width="5.0" height="16.00" fill="#00aeea"/>
<rect x="539.85" y="686.9" width="5.0" height="2.60" fill="#e8419a"/>
<rect x="539.85" y="689.5" width="5.0" height="55.80" fill="#ffeb22"/>
<rect x="539.85" y="745.3" width="5.0" height="118.20" fill="#ee432c"/>
<rect x="553.17" y="674.9" width="5.0" height="15.90" fill="#00aeea"/>
<rect x="553.17" y="690.8" width="5.0" height="2.60" fill="#e8419a"/>
<rect x="553.17" y="693.4" width="5.0" height="44.30" fill="#ffeb22"/>
<rect x="553.17" y="737.7" width="5.0" height="125.80" fill="#ee432c"/>
<rect x="566.50" y="652" width="5.0" height="15.90" fill="#00aeea"/>
<rect x="566.50" y="667.9" width="5.0" height="2.60" fill="#e8419a"/>
<rect x="566.50" y="670.5" width="5.0" height="55.60" fill="#ffeb22"/>
<rect x="566.50" y="726.1" width="5.0" height="137.40" fill="#ee432c"/>
<rect x="579.83" y="670.5" width="5.0" height="16.40" fill="#00aeea"/>
<rect x="579.83" y="686.9" width="5.0" height="2.60" fill="#e8419a"/>
<rect x="579.83" y="689.5" width="5.0" height="51.60" fill="#ffeb22"/>
<rect x="579.83" y="741.1" width="5.0" height="122.40" fill="#ee432c"/>
<rect x="593.15" y="672.9" width="5.0" height="16.60" fill="#00aeea"/>
<rect x="593.15" y="689.5" width="5.0" height="2.30" fill="#e8419a"/>
<rect x="593.15" y="691.8" width="5.0" height="47.50" fill="#ffeb22"/>
<rect x="593.15" y="739.3" width="5.0" height="124.20" fill="#ee432c"/>
<rect x="606.47" y="670.5" width="5.0" height="15.40" fill="#00aeea"/>
<rect x="606.47" y="685.9" width="5.0" height="2.40" fill="#e8419a"/>
<rect x="606.47" y="688.3" width="5.0" height="47.80" fill="#ffeb22"/>
<rect x="606.47" y="736.1" width="5.0" height="127.40" fill="#ee432c"/>
<rect x="619.80" y="681.9" width="5.0" height="15.90" fill="#00aeea"/>
<rect x="619.80" y="697.8" width="5.0" height="2.00" fill="#e8419a"/>
<rect x="619.80" y="699.8" width="5.0" height="46.30" fill="#ffeb22"/>
<rect x="619.80" y="746.1" width="5.0" height="117.40" fill="#ee432c"/>
<text x="282" y="651.14" font-size="9" fill="#8aa3b6" text-anchor="end" font-family="Liberation Sans">5</text>
<text x="282" y="694.21" font-size="9" fill="#8aa3b6" text-anchor="end" font-family="Liberation Sans">4</text>
<text x="282" y="737.28" font-size="9" fill="#8aa3b6" text-anchor="end" font-family="Liberation Sans">3</text>
<text x="282" y="780.35" font-size="9" fill="#8aa3b6" text-anchor="end" font-family="Liberation Sans">2</text>
<text transform="translate(332.05,888.2) rotate(-90)" font-size="8.2" fill="#8aa3b6" font-family="Liberation Sans">2</text>
<text transform="translate(345.38,888.2) rotate(-90)" font-size="8.2" fill="#8aa3b6" font-family="Liberation Sans">3</text>
<text transform="translate(358.70,888.2) rotate(-90)" font-size="8.2" fill="#8aa3b6" font-family="Liberation Sans">4</text>
<text transform="translate(372.02,888.2) rotate(-90)" font-size="8.2" fill="#8aa3b6" font-family="Liberation Sans">5</text>
<text transform="translate(412.00,888.2) rotate(-90)" font-size="8.2" fill="#8aa3b6" font-family="Liberation Sans">8</text>
<text transform="translate(438.65,888.2) rotate(-90)" font-size="8.2" fill="#8aa3b6" font-family="Liberation Sans">2</text>
<text transform="translate(451.97,888.2) rotate(-90)" font-size="8.2" fill="#8aa3b6" font-family="Liberation Sans">2</text>
<text transform="translate(465.30,888.2) rotate(-90)" font-size="8.2" fill="#8aa3b6" font-family="Liberation Sans">22</text>
<text transform="translate(478.62,888.2) rotate(-90)" font-size="8.2" fill="#8aa3b6" font-family="Liberation Sans">23</text>
<text transform="translate(491.95,888.2) rotate(-90)" font-size="8.2" fill="#8aa3b6" font-family="Liberation Sans">24</text>
<text transform="translate(505.27,888.2) rotate(-90)" font-size="8.2" fill="#8aa3b6" font-family="Liberation Sans">25</text>
<text transform="translate(518.60,888.2) rotate(-90)" font-size="8.2" fill="#8aa3b6" font-family="Liberation Sans">2</text>
<text transform="translate(531.92,888.2) rotate(-90)" font-size="8.2" fill="#8aa3b6" font-family="Liberation Sans">2</text>
<text transform="translate(545.25,888.2) rotate(-90)" font-size="8.2" fill="#8aa3b6" font-family="Liberation Sans">28</text>
<text transform="translate(558.57,888.2) rotate(-90)" font-size="8.2" fill="#8aa3b6" font-family="Liberation Sans">2</text>
<text transform="translate(571.90,888.2) rotate(-90)" font-size="8.2" fill="#8aa3b6" font-family="Liberation Sans">2</text>
<text transform="translate(585.23,888.2) rotate(-90)" font-size="8.2" fill="#8aa3b6" font-family="Liberation Sans">2</text>
<text transform="translate(598.55,888.2) rotate(-90)" font-size="8.2" fill="#8aa3b6" font-family="Liberation Sans">22</text>
<text transform="translate(611.87,888.2) rotate(-90)" font-size="8.2" fill="#8aa3b6" font-family="Liberation Sans">23</text>
<text transform="translate(625.20,888.2) rotate(-90)" font-size="8.2" fill="#8aa3b6" font-family="Liberation Sans">24</text>
<text x="665.61" y="567.9" font-size="10.2" font-weight="normal" fill="#d2d2d2" textLength="63.62" lengthAdjust="spacing">Utsläppen av</text>
<text x="665.97" y="580.13" font-size="10.2" font-weight="normal" fill="#d2d2d2" textLength="78.98" lengthAdjust="spacing">dioxoner från el-</text>
<text x="665.97" y="592.36" font-size="10.2" font-weight="normal" fill="#d2d2d2" textLength="78.98" lengthAdjust="spacing">och fjärrvärme-</text>
<text x="665.74" y="604.5899999999999" font-size="10.2" font-weight="normal" fill="#d2d2d2" textLength="72.13" lengthAdjust="spacing">produktion har</text>
<text x="665.97" y="616.8199999999999" font-size="10.2" font-weight="normal" fill="#d2d2d2" textLength="83.06" lengthAdjust="spacing">ökat sedan 1990.</text>
<text x="665.56" y="629.05" font-size="10.2" font-weight="normal" fill="#d2d2d2" textLength="79.11" lengthAdjust="spacing">Men siffrorna är</text>
<text x="665.97" y="641.28" font-size="10.2" font-weight="normal" fill="#d2d2d2" textLength="72.50" lengthAdjust="spacing">osäkra, uppger</text>
<text x="665.56" y="653.51" font-size="10.2" font-weight="normal" fill="#d2d2d2" textLength="90.27" lengthAdjust="spacing">Naturvårdsverket.</text>
<circle cx="669.8" cy="674.8" r="3.9" fill="#00aeea"/>
<circle cx="669.8" cy="728.6" r="3.9" fill="#e8419a"/>
<circle cx="669.8" cy="745.2" r="3.9" fill="#ffeb22"/>
<circle cx="669.8" cy="761.1" r="3.9" fill="#ee432c"/>
<text x="675.73" y="678.4" font-size="11.3" font-weight="normal" fill="#f2f2f2" textLength="75.33" lengthAdjust="spacing">Uppvärmning i</text>
<text x="665.37" y="690.7" font-size="11.3" font-weight="normal" fill="#f2f2f2" textLength="86.94" lengthAdjust="spacing">bostäder, lokaler,</text>
<text x="666.38" y="702.9" font-size="11.3" font-weight="normal" fill="#f2f2f2" textLength="62.26" lengthAdjust="spacing">jordbruk och</text>
<text x="665.79" y="715.4" font-size="11.3" font-weight="normal" fill="#f2f2f2" textLength="53.20" lengthAdjust="spacing">skogsbruk</text>
<text x="676.85" y="732.6" font-size="11.3" font-weight="normal" fill="#f2f2f2" textLength="49.04" lengthAdjust="spacing">Transport</text>
<text x="675.56" y="749.2" font-size="11.3" font-weight="normal" fill="#f2f2f2" textLength="39.00" lengthAdjust="spacing">Industri</text>
<text x="675.67" y="764.9" font-size="11.3" font-weight="normal" fill="#f2f2f2" textLength="64.03" lengthAdjust="spacing">El- och fjärr-</text>
<text x="666.06" y="777.5" font-size="11.3" font-weight="normal" fill="#f2f2f2" textLength="85.97" lengthAdjust="spacing">värmeproduktion</text>
<text x="665.34" y="790" font-size="11.3" font-weight="normal" fill="#f2f2f2" textLength="86.96" lengthAdjust="spacing">inklusive avfalls -</text>
<text x="665.94" y="801.5" font-size="11.3" font-weight="normal" fill="#f2f2f2" textLength="62.29" lengthAdjust="spacing">förbränning.</text>
<circle cx="64.8" cy="701.4" r="15.1" fill="#1a9a5c"/>
<text x="59.84" y="707.9" font-size="17" font-weight="bold" fill="#fff" textLength="10.11" lengthAdjust="spacingAndGlyphs" stroke="#fff" stroke-width="0.8">?</text>
<text x="49.73" y="735.8" font-size="16" font-weight="bold" fill="#fff" textLength="49.10" lengthAdjust="spacingAndGlyphs" stroke="#fff" stroke-width="0.5">VAD KAN</text>
<text x="49.35" y="751.7" font-size="16" font-weight="bold" fill="#fff" textLength="60.74" lengthAdjust="spacingAndGlyphs" stroke="#fff" stroke-width="0.5">JAG GÖRA?</text>
<rect x="49.5" y="757.2" width="10.3" height="1.8" fill="#fff"/>
<circle cx="53.3" cy="775.2" r="4" fill="#fff"/>
<circle cx="53.3" cy="813" r="4" fill="#fff"/>
<circle cx="53.3" cy="866.4" r="4" fill="#fff"/>
<text x="59.66" y="778.6" font-size="11.5" font-weight="normal" fill="#fff" textLength="74.95" lengthAdjust="spacingAndGlyphs">Försök repare-</text>
<text x="48.54" y="790.9" font-size="11.5" font-weight="normal" fill="#fff" textLength="81.34" lengthAdjust="spacingAndGlyphs">ra i stället för att</text>
<text x="48.98" y="803.2" font-size="11.5" font-weight="normal" fill="#fff" textLength="37.87" lengthAdjust="spacing">slänga.</text>
<text x="60.08" y="815.6" font-size="11.5" font-weight="normal" fill="#fff" textLength="60.67" lengthAdjust="spacing">Sopsortera.</text>
<text x="48.42" y="827.9" font-size="11.5" font-weight="normal" fill="#fff" textLength="89.96" lengthAdjust="spacingAndGlyphs">Undvik om möjligt</text>
<text x="48.81" y="840.2" font-size="11.5" font-weight="normal" fill="#fff" textLength="82.66" lengthAdjust="spacingAndGlyphs">att slänga plast i</text>
<text x="49.26" y="852.5" font-size="11.5" font-weight="normal" fill="#fff" textLength="71.49" lengthAdjust="spacingAndGlyphs">vanliga sopor.</text>
<text x="60.58" y="869.0" font-size="11.5" font-weight="normal" fill="#fff" textLength="54.53" lengthAdjust="spacing">Är du fjärr-</text>
<text x="49.26" y="881.4" font-size="11.5" font-weight="normal" fill="#fff" textLength="78.79" lengthAdjust="spacing">värmekund kan</text>
<text x="48.82" y="893.7" font-size="11.5" font-weight="normal" fill="#fff" textLength="61.13" lengthAdjust="spacing">du fråga din</text>
<text x="48.53" y="906.0" font-size="11.5" font-weight="normal" fill="#fff" textLength="78.07" lengthAdjust="spacing">leverantör efter</text>
<text x="49.14" y="918.4" font-size="11.5" font-weight="normal" fill="#fff" textLength="85.05" lengthAdjust="spacing">fjärrvärme märkt</text>
<text x="48.54" y="930.7" font-size="11.5" font-weight="normal" fill="#fff" textLength="91.11" lengthAdjust="spacing">med Bra Miljöval.</text>
<text x="623.15" y="979.2" font-size="9.8" font-weight="normal" fill="#d2d2d2" textLength="56.19" lengthAdjust="spacing">SVERIGES</text>
<text x="681.00" y="979.2" font-size="9.8" font-weight="normal" fill="#d2d2d2" textLength="37.46" lengthAdjust="spacing">NATUR</text>
<text x="719.94" y="979.2" font-size="9.8" font-weight="normal" fill="#d2d2d2" textLength="5.28" lengthAdjust="spacingAndGlyphs">3</text>
<rect x="725.5" y="975.3" width="9.5" height="0.8" fill="#d2d2d2"/>
<text x="734.11" y="979.2" font-size="9.8" font-weight="normal" fill="#d2d2d2" textLength="24.42" lengthAdjust="spacing">2016</text>
<text x="778.71" y="979.2" font-size="9.8" font-weight="normal" fill="#d2d2d2" textLength="12.99" lengthAdjust="spacing">27</text>
<path d="M780.2,923.8 L786.6,927.2 L780.2,930.5 Z" fill="#fff"/>
</svg>
</body></html>
